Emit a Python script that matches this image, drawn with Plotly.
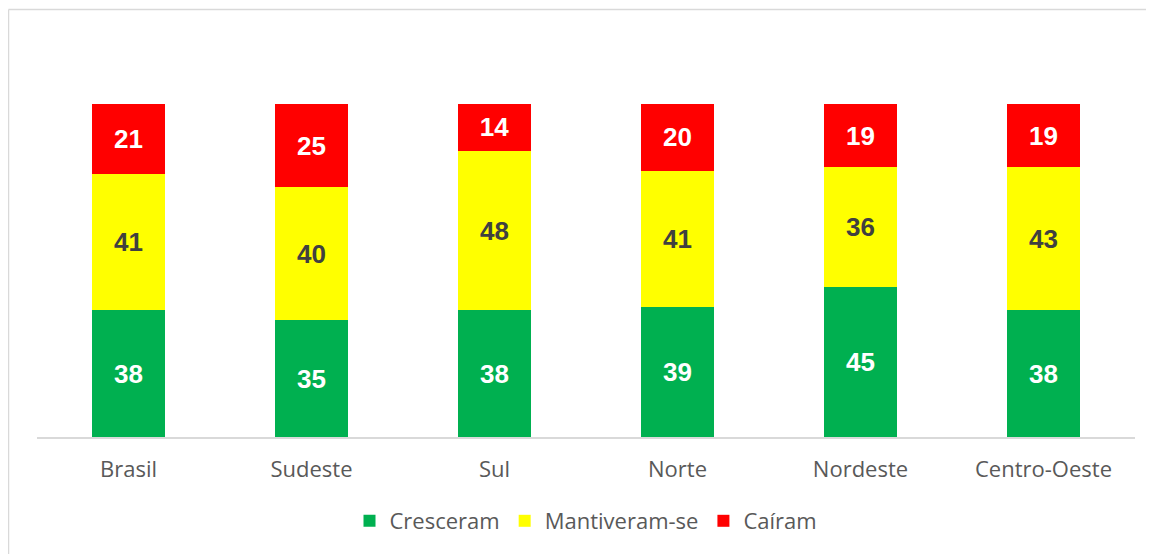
import plotly.graph_objects as go

categories = ["Brasil", "Sudeste", "Sul", "Norte", "Nordeste", "Centro-Oeste"]
cresceram = [38, 35, 38, 39, 45, 38]
mantiveram = [41, 40, 48, 41, 36, 43]
cairam = [21, 25, 14, 20, 19, 19]

series = [
    ("Cresceram", cresceram, "#00B050", "white"),
    ("Mantiveram-se", mantiveram, "#FFFF00", "#404040"),
    ("Caíram", cairam, "#FF0000", "white"),
]

fig = go.Figure()
for name, vals, color, tcolor in series:
    fig.add_trace(go.Bar(
        x=categories, y=vals, name=name,
        marker=dict(color=color, line=dict(width=0)),
        text=[str(v) for v in vals], textposition="inside",
        insidetextanchor="middle",
        textfont=dict(family="Liberation Sans", size=26, color=tcolor, weight="bold"),
        textangle=0,
    ))

# page has an 8px body offset
W, H = 1146, 546
L, R, T, B = 29, 19, 96, 117
pw, ph = W - L - R, H - T - B

fig.update_layout(
    barmode="stack", barnorm="percent",
    width=W, height=H,
    margin=dict(l=L, r=R, t=T, b=B),
    paper_bgcolor="white", plot_bgcolor="white",
    bargap=0.6,
    showlegend=True,
    legend=dict(orientation="h", x=0.5, xanchor="center", y=-84/ph, yanchor="middle",
                font=dict(family="Open Sans", size=22, color="#595959"),
                traceorder="normal", itemwidth=30),
    xaxis=dict(showline=True, linecolor="#D9D9D9", linewidth=1.5, ticks="",
               tickfont=dict(family="Open Sans", size=22, color="#595959"), ticklabelstandoff=12),
    yaxis=dict(range=[0, 100], visible=False, showgrid=False),
    shapes=[
        dict(type="line", xref="paper", yref="paper",
             x0=-28.5/pw, x1=1 + 40/pw, y0=1 + 94.5/ph, y1=1 + 94.5/ph,
             line=dict(color="#D9D9D9", width=1.5)),
        dict(type="line", xref="paper", yref="paper",
             x0=-28.5/pw, x1=-28.5/pw, y0=1 + 94.5/ph, y1=-140/ph,
             line=dict(color="#D9D9D9", width=1.5)),
    ],
)

fig.write_html("out.html")
